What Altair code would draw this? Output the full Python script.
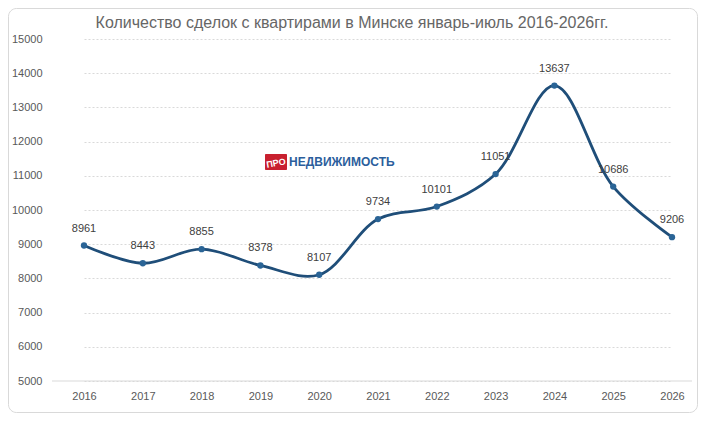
import altair as alt
import pandas as pd

years = ["2016", "2017", "2018", "2019", "2020", "2021", "2022", "2023", "2024", "2025", "2026"]
deals = [8961, 8443, 8855, 8378, 8107, 9734, 10101, 11051, 13637, 10686, 9206]
y_ticks = [5000, 6000, 7000, 8000, 9000, 10000, 11000, 12000, 13000, 14000, 15000]
title_text = "Количество сделок с квартирами в Минске январь-июль 2016-2026гг."

df = pd.DataFrame({"year": years, "deals": deals})

W, H = 640, 342
FONT = "Liberation Sans"

yscale = alt.Scale(domain=[5000, 15000], nice=False, zero=False)
yaxis = alt.Axis(title=None, values=y_ticks, ticks=False, domain=False, format="d",
                 labelOverlap=False, labelColor="#595959", labelFontSize=11,
                 labelFont=FONT, labelPadding=10,
                 gridColor="#d9d9d9", gridDash=[2, 2], gridWidth=1)

x = alt.X("year:O", sort=years, scale=alt.Scale(type="point", range=[32, 620], padding=0),
          axis=alt.Axis(title=None, labelAngle=0, ticks=False, domain=False,
                        labelColor="#595959", labelFontSize=11, labelFont=FONT, labelPadding=9))
y = alt.Y("deals:Q", scale=yscale, axis=yaxis)

base = alt.Chart(df)

line = base.mark_line(color="#1f4e79", strokeWidth=2.8, interpolate="catmull-rom").encode(x=x, y=y)
points = base.mark_circle(color="#2a6496", size=40, opacity=1).encode(x=x, y=y)
labels = base.mark_text(dy=-17, fontSize=11, color="#404040", font=FONT).encode(
    x=x, y=y, text=alt.Text("deals:Q", format="d"))

# bottom baseline at 5000
baseline = alt.Chart(pd.DataFrame({"deals": [5000]})).mark_rule(color="#d9d9d9", strokeWidth=1).encode(
    y=y, x=alt.value(0), x2=alt.value(W))

one = pd.DataFrame({"a": [1]})

# title as text
title = alt.Chart(one).mark_text(text=title_text, fontSize=16, font=FONT,
                                 color="#666666", baseline="alphabetic").encode(
    x=alt.value(300), y=alt.value(-11))

# watermark logo
logo_box = alt.Chart(one).mark_rect(color="#c8202f", cornerRadius=1).encode(
    x=alt.value(213), x2=alt.value(235), y=alt.value(115), y2=alt.value(131))
logo_pro = alt.Chart(one).mark_text(text="ПРО", color="white", fontSize=9, font=FONT,
                                    fontWeight="bold", angle=350).encode(
    x=alt.value(224), y=alt.value(124))
logo_word = alt.Chart(one).mark_text(text="НЕДВИЖИМОСТЬ", color="#2b5e9c", fontSize=12,
                                     font=FONT, fontWeight="bold", align="left").encode(
    x=alt.value(237), y=alt.value(123))

# outer rounded border
frame = alt.Chart(one).mark_rect(fill=None, stroke="#d9d9d9", strokeWidth=1, cornerRadius=8).encode(
    x=alt.value(-43.5), x2=alt.value(W + 5.5), y=alt.value(-30.5), y2=alt.value(H + 31.5))

chart = alt.layer(baseline, line, points, labels, title, logo_box, logo_pro, logo_word, frame).properties(
    width=W, height=H,
    autosize=alt.AutoSizeParams(type="none"),
    padding={"left": 44, "top": 31, "right": 6, "bottom": 32},
).configure(background="white").configure_view(stroke=None)

chart.save("out.html", embed_options={"renderer": "svg", "actions": False})
